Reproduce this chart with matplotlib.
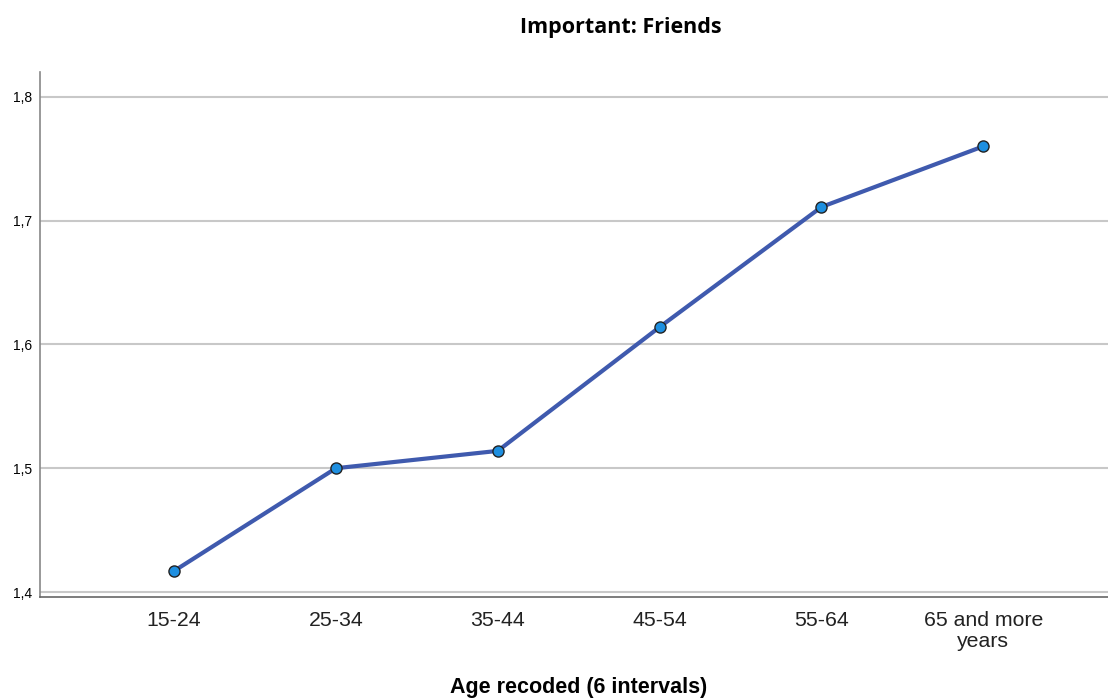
import matplotlib.pyplot as plt

# dados
faixas = ['15-24', '25-34', '35-44', '45-54', '55-64', '65 and more\nyears']
medias = [1.417, 1.500, 1.514, 1.614, 1.711, 1.760]
ticks_y = [1.4, 1.5, 1.6, 1.7, 1.8]
labels_y = ['1,4', '1,5', '1,6', '1,7', '1,8']

fig = plt.figure(figsize=(11.08, 7), dpi=100)
ax = fig.add_axes([40 / 1108, 103 / 700, 1068 / 1108, 525 / 700])

x = list(range(len(faixas)))
ax.plot(x, medias, color='#3F5AAE', linewidth=3, zorder=3,
        marker='o', markersize=8, markerfacecolor='#1E8FE0',
        markeredgecolor='#222222', markeredgewidth=1)

ax.set_xlim(-0.828, 5.77)
ax.set_ylim(1.396, 1.820)
ax.set_yticks(ticks_y)
ax.set_yticklabels(labels_y, fontsize=10, family='Liberation Sans')
ax.set_xticks(x)
ax.set_xticklabels(faixas, fontsize=15.3, family='Liberation Sans',
                   color='#222222', linespacing=1.12)
ax.tick_params(axis='both', length=0)
ax.tick_params(axis='x', pad=10)
ax.tick_params(axis='y', pad=6)

ax.grid(axis='y', color='#C8C8C8', linewidth=1.5)
ax.set_axisbelow(True)
for s in ['top', 'right']:
    ax.spines[s].set_visible(False)
ax.spines['left'].set_color('#888888')
ax.spines['bottom'].set_color('#666666')
ax.spines['left'].set_linewidth(1.2)
ax.spines['bottom'].set_linewidth(1.2)

fig.text(621 / 1108, 1 - 27 / 700, 'Important: Friends', ha='center', va='center',
         fontsize=15.5, fontweight='bold', family='Open Sans')
fig.text(579 / 1108, 1 - 688 / 700, 'Age recoded (6 intervals)', ha='center',
         va='center', fontsize=15.5, fontweight='bold', family='Liberation Sans')

fig.savefig('out.png', dpi=100)
